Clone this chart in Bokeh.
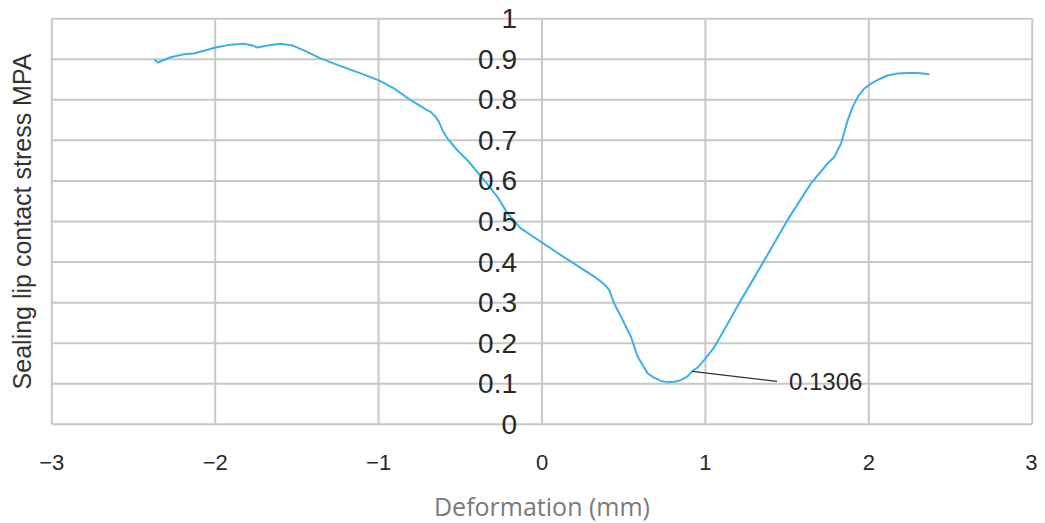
from bokeh.plotting import figure
from bokeh.models import FixedTicker, LabelSet, ColumnDataSource
from bokeh.core.properties import value
from bokeh.embed import file_html
from bokeh.resources import INLINE

# ---- data ----
deformation = [-2.371, -2.351, -2.273, -2.192, -2.130, -1.998, -1.906, -1.824, -1.773, -1.742,
               -1.681, -1.600, -1.528, -1.457, -1.355, -1.232, -1.110, -0.998, -0.906, -0.803,
               -0.701, -0.681, -0.651, -0.630, -0.609, -0.579, -0.517, -0.456, -0.354, -0.273,
               -0.211, -0.130, -0.007, 0.115, 0.177, 0.320, 0.360, 0.391, 0.412, 0.426,
               0.442, 0.483, 0.544, 0.585, 0.646, 0.684, 0.728, 0.768, 0.809, 0.850,
               0.891, 0.918, 0.952, 0.993, 1.054, 1.156, 1.197, 1.340, 1.503, 1.646,
               1.748, 1.789, 1.830, 1.871, 1.901, 1.932, 1.973, 2.013, 2.069, 2.115,
               2.177, 2.238, 2.299, 2.371]
stress = [0.899, 0.892, 0.905, 0.912, 0.914, 0.929, 0.936, 0.938, 0.934, 0.929,
          0.934, 0.938, 0.934, 0.922, 0.902, 0.883, 0.865, 0.848, 0.828, 0.799,
          0.774, 0.770, 0.758, 0.745, 0.725, 0.705, 0.675, 0.651, 0.602, 0.561,
          0.520, 0.483, 0.450, 0.417, 0.401, 0.364, 0.352, 0.341, 0.331, 0.315,
          0.298, 0.266, 0.216, 0.167, 0.126, 0.115, 0.107, 0.104, 0.105, 0.109,
          0.118, 0.1306, 0.140, 0.159, 0.190, 0.262, 0.292, 0.390, 0.504, 0.594,
          0.643, 0.659, 0.692, 0.750, 0.782, 0.807, 0.828, 0.840, 0.852, 0.860,
          0.865, 0.866, 0.866, 0.863]

x_ticks = [-3, -2, -1, 0, 1, 2, 3]
x_tick_labels = ["\u22123", "\u22122", "\u22121", "0", "1", "2", "3"]
y_ticks = [0, 0.1, 0.2, 0.3, 0.4, 0.5, 0.6, 0.7, 0.8, 0.9, 1]
y_tick_labels = ["0", "0.1", "0.2", "0.3", "0.4", "0.5", "0.6", "0.7", "0.8", "0.9", "1"]

annot_point = (0.918, 0.1306)
annot_text_pos = (1.438, 0.106)
annot_label = "0.1306"

GRID = "#c8c8c8"
DARK = "#2b2728"
FONT = "Liberation Sans"

XPAD = 0.02
YPAD = 0.03
xmin, xmax = x_ticks[0], x_ticks[-1]
ymin, ymax = y_ticks[0], y_ticks[-1]
p = figure(x_range=(xmin - XPAD, xmax + XPAD), y_range=(ymin - YPAD, ymax + YPAD),
           frame_width=987, frame_height=430,
           output_backend="svg", toolbar_location=None,
           min_border_left=48, min_border_top=6, min_border_right=2, min_border_bottom=10)
p.background_fill_color = "white"
p.border_fill_color = "white"
p.outline_line_color = None
p.xgrid.visible = False
p.ygrid.visible = False

# grid lines limited to the data box
p.segment(x0=x_ticks, y0=[ymin] * len(x_ticks), x1=x_ticks, y1=[ymax] * len(x_ticks),
          line_color=GRID, line_width=2)
p.segment(x0=[xmin] * len(y_ticks), y0=y_ticks, x1=[xmax] * len(y_ticks), y1=y_ticks,
          line_color=GRID, line_width=2)

# x axis
xa = p.xaxis[0]
xa.ticker = FixedTicker(ticks=x_ticks)
xa.major_label_overrides = {t: l for t, l in zip(x_ticks, x_tick_labels)}
xa.axis_line_color = None
xa.major_tick_line_color = None
xa.minor_tick_line_color = None
xa.major_tick_out = 0
xa.major_tick_in = 0
xa.major_label_standoff = 18
xa.major_label_text_font = FONT
xa.major_label_text_font_size = "22px"
xa.major_label_text_color = DARK
xa.axis_label = "Deformation (mm)"
xa.axis_label_text_font = "Open Sans"
xa.axis_label_text_font_style = "normal"
xa.axis_label_text_font_size = "25px"
xa.axis_label_text_color = "#7a7a7a"
xa.axis_label_standoff = 16

# y axis (label only)
ya = p.yaxis[0]
ya.ticker = FixedTicker(ticks=[])
ya.axis_line_color = None
ya.major_tick_line_color = None
ya.minor_tick_line_color = None
ya.major_tick_out = 0
ya.major_tick_in = 0
ya.major_label_standoff = 0
ya.axis_label = "Sealing lip contact stress MPA"
ya.axis_label_text_font = FONT
ya.axis_label_text_font_style = "normal"
ya.axis_label_text_font_size = "25px"
ya.axis_label_text_color = "#333333"
ya.axis_label_standoff = 13

# y tick labels at x = 0
ysrc = ColumnDataSource(dict(x=[0] * len(y_ticks), y=y_ticks, text=y_tick_labels))
p.add_layout(LabelSet(x="x", y="y", text="text", source=ysrc,
                      x_offset=-25, text_align="right", text_baseline="middle",
                      text_font=value(FONT), text_font_size="28px", text_color=DARK))

# curve
p.line(deformation, stress, line_color="#3cb0e8", line_width=2, line_join="round")

# annotation
p.line([annot_point[0], annot_text_pos[0]], [annot_point[1], annot_text_pos[1]],
       line_color="#333333", line_width=1.2)
asrc = ColumnDataSource(dict(x=[annot_text_pos[0]], y=[annot_text_pos[1]], text=[annot_label]))
p.add_layout(LabelSet(x="x", y="y", text="text", source=asrc,
                      x_offset=12, text_align="left", text_baseline="middle",
                      text_font=value(FONT), text_font_size="24px", text_color=DARK))

open("out.html", "w").write(file_html(p, INLINE))
